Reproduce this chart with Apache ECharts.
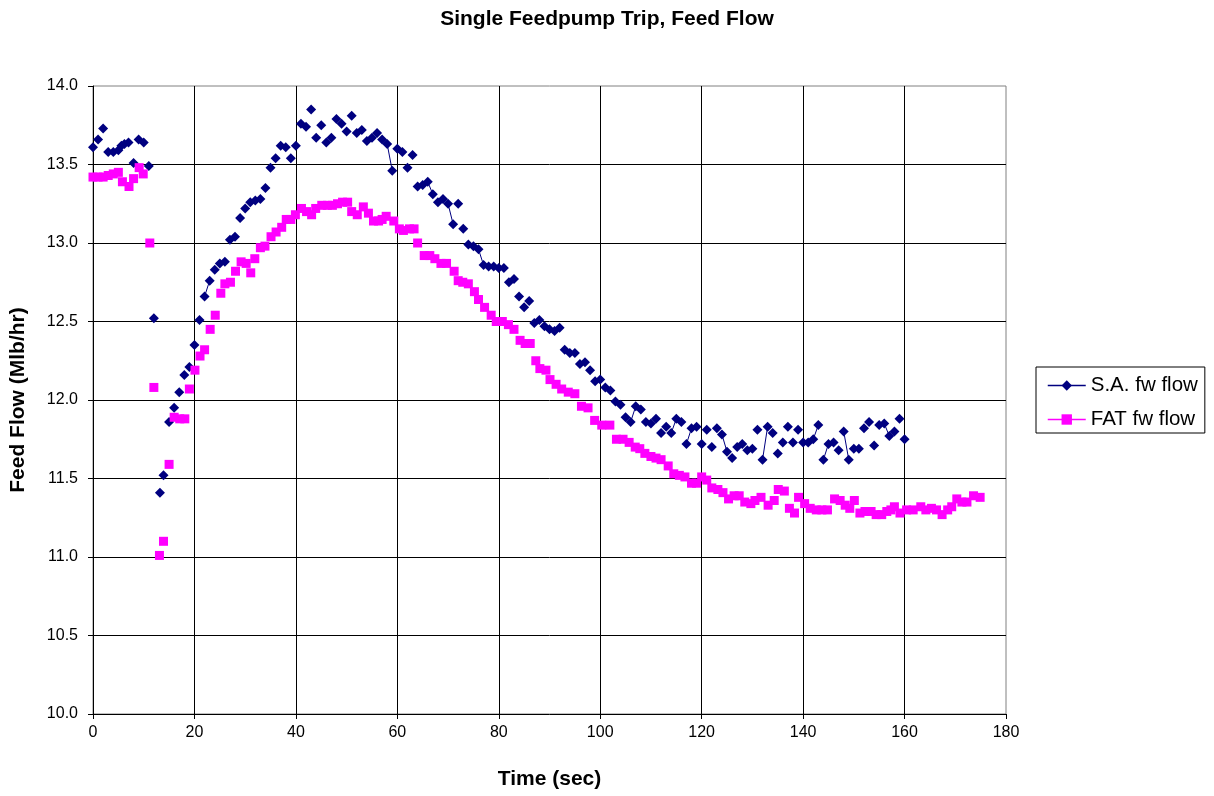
<!DOCTYPE html>
<html>
<head>
<meta charset="utf-8">
<title>Single Feedpump Trip, Feed Flow</title>
<script src="https://cdn.jsdelivr.net/npm/echarts@6/dist/echarts.min.js"></script>
<style>
    html, body { margin: 0; padding: 0; background: #fff; }
    #chart { width: 1214px; height: 796px; }
</style>
</head>
<body>
<div id="chart"></div>
<script>
// S.A. fw flow (sec, Mlb/hr)
var saTime = [0, 1, 2, 3, 4, 5, 5.6, 6.2, 7, 8, 9, 10, 11, 12, 13.2, 13.9, 15, 16, 17, 18,
    19, 20, 21, 22, 23, 24, 25, 26, 27, 28, 29, 30, 31, 32, 33, 34, 35, 36, 37, 38,
    39, 40, 41, 42, 43, 44, 45, 46, 47, 48, 49, 50, 51, 52, 53, 54, 55, 56, 57, 58,
    59, 60, 61, 62, 63, 64, 65, 66, 67, 68, 69, 70, 71, 72, 73, 74, 75, 76, 77, 78,
    79, 80, 81, 82, 83, 84, 85, 86, 87, 88, 89, 90, 91, 92, 93, 94, 95, 96, 97, 98,
    99, 100, 101, 102, 103, 104, 105, 106, 107, 108, 109, 110, 111, 112, 113, 114, 115, 116, 117, 118,
    119, 120, 121, 122, 123, 124, 125, 126, 127, 128, 129, 130, 131, 132, 133, 134, 135, 136, 137, 138,
    139, 140, 141, 142, 143, 144, 145, 146, 147, 148, 149, 150, 151, 152, 153, 154, 155, 156, 157, 158,
    159, 160];
var saFlow = [13.61, 13.66, 13.73, 13.58, 13.58, 13.59, 13.62, 13.63, 13.64, 13.51, 13.66, 13.64, 13.49, 12.52, 11.41, 11.52, 11.86, 11.95, 12.05, 12.16,
    12.21, 12.35, 12.51, 12.66, 12.76, 12.83, 12.87, 12.88, 13.02, 13.04, 13.16, 13.22, 13.26, 13.27, 13.28, 13.35, 13.48, 13.54, 13.62, 13.61,
    13.54, 13.62, 13.76, 13.74, 13.85, 13.67, 13.75, 13.64, 13.67, 13.79, 13.76, 13.71, 13.81, 13.70, 13.72, 13.65, 13.67, 13.70, 13.66, 13.63,
    13.46, 13.60, 13.58, 13.48, 13.56, 13.36, 13.37, 13.39, 13.31, 13.26, 13.28, 13.25, 13.12, 13.25, 13.09, 12.99, 12.98, 12.96, 12.86, 12.85,
    12.85, 12.84, 12.84, 12.75, 12.77, 12.66, 12.59, 12.63, 12.49, 12.51, 12.47, 12.45, 12.44, 12.46, 12.32, 12.30, 12.30, 12.23, 12.24, 12.19,
    12.12, 12.13, 12.08, 12.06, 11.99, 11.97, 11.89, 11.86, 11.96, 11.94, 11.86, 11.85, 11.88, 11.79, 11.83, 11.79, 11.88, 11.86, 11.72, 11.82,
    11.83, 11.72, 11.81, 11.70, 11.82, 11.78, 11.67, 11.63, 11.70, 11.72, 11.68, 11.69, 11.81, 11.62, 11.83, 11.79, 11.66, 11.73, 11.83, 11.73,
    11.81, 11.73, 11.73, 11.75, 11.84, 11.62, 11.72, 11.73, 11.68, 11.80, 11.62, 11.69, 11.69, 11.82, 11.86, 11.71, 11.84, 11.85, 11.77, 11.80,
    11.88, 11.75];
// times (sec) where the S.A. line visibly joins a point to the next one
var saJoinFrom = [22, 58, 66, 70, 76, 106, 114, 117, 124, 132, 141, 142, 144, 148, 156];

// FAT fw flow (sec, Mlb/hr)
var fatTime = [0, 1, 2, 3, 4, 5, 5.8, 7.1, 8, 9.1, 9.9, 11.2, 12, 13.1, 13.9, 15, 16, 17.1, 18.1, 19,
    20.1, 21.1, 22, 23.1, 24.1, 25.2, 26, 27.1, 28.1, 29.2, 30.2, 31.1, 31.9, 33, 33.9, 35.1, 36.1, 37.2, 38.1, 39,
    39.9, 41.1, 42.1, 43.1, 43.9, 45.1, 46.2, 47.2, 48.2, 49.2, 50.2, 51, 52.1, 53.3, 54.3, 55.3, 56.3, 57, 57.8, 59.3,
    60.4, 61.2, 62.4, 63.3, 64, 65.3, 66.4, 67.4, 68.6, 69.7, 71.2, 72, 72.9, 74, 75.2, 76, 77.2, 78.5, 79.5, 80.7,
    81.9, 83, 84.2, 85.2, 86.2, 87.3, 88.1, 89.3, 90.1, 91.3, 92.4, 93.7, 95, 96.3, 97.6, 98.9, 100.3, 101.9, 103.2, 104.5,
    105.7, 106.9, 107.8, 108.8, 110, 111, 112, 113.4, 114.5, 115.6, 116.7, 118, 119, 120, 121, 122, 123.2, 124.2, 125.3, 126.4,
    127.4, 128.5, 129.7, 130.5, 131.7, 133.1, 134.3, 135.1, 136.3, 137.3, 138.3, 139.1, 140.3, 141.4, 142.6, 143.7, 144.8, 146.2, 147.3, 148.3,
    149.2, 150.1, 151.2, 152.2, 153.4, 154.4, 155.5, 156.5, 157.3, 158, 159.1, 160.4, 161.7, 163.2, 164.2, 165.3, 166.3, 167.4, 168.5, 169.3,
    170.3, 171.3, 172.3, 173.6, 174.9];
var fatFlow = [13.42, 13.42, 13.42, 13.43, 13.44, 13.45, 13.39, 13.36, 13.41, 13.48, 13.44, 13.00, 12.08, 11.01, 11.10, 11.59, 11.89, 11.88, 11.88, 12.07,
    12.19, 12.28, 12.32, 12.45, 12.54, 12.68, 12.74, 12.75, 12.82, 12.88, 12.87, 12.81, 12.90, 12.97, 12.98, 13.04, 13.07, 13.10, 13.15, 13.15,
    13.18, 13.22, 13.20, 13.18, 13.22, 13.24, 13.24, 13.24, 13.25, 13.26, 13.26, 13.20, 13.18, 13.23, 13.19, 13.14, 13.14, 13.15, 13.17, 13.14,
    13.09, 13.08, 13.09, 13.09, 13.00, 12.92, 12.92, 12.90, 12.87, 12.87, 12.82, 12.76, 12.75, 12.74, 12.69, 12.64, 12.59, 12.54, 12.50, 12.50,
    12.48, 12.45, 12.38, 12.36, 12.36, 12.25, 12.20, 12.19, 12.13, 12.10, 12.07, 12.05, 12.04, 11.96, 11.95, 11.87, 11.84, 11.84, 11.75, 11.75,
    11.73, 11.70, 11.69, 11.66, 11.64, 11.63, 11.62, 11.58, 11.53, 11.52, 11.51, 11.47, 11.47, 11.51, 11.49, 11.44, 11.43, 11.41, 11.37, 11.39,
    11.39, 11.35, 11.34, 11.36, 11.38, 11.33, 11.36, 11.43, 11.42, 11.31, 11.28, 11.38, 11.34, 11.31, 11.30, 11.30, 11.30, 11.37, 11.36, 11.33,
    11.31, 11.36, 11.28, 11.29, 11.29, 11.27, 11.27, 11.29, 11.30, 11.32, 11.28, 11.30, 11.30, 11.32, 11.30, 11.31, 11.30, 11.27, 11.30, 11.32,
    11.37, 11.35, 11.35, 11.39, 11.38];

var seriesNames = ['S.A. fw flow', 'FAT fw flow'];
var seriesColors = ['#000080', '#ff00ff'];

// pairs with a gap after every point that is not joined to the next one
function buildSeries(xs, ys, joinFrom) {
    var out = [];
    for (var i = 0; i < xs.length; i++) {
        out.push([xs[i], ys[i]]);
        if (i < xs.length - 1 && joinFrom.indexOf(xs[i]) < 0) {
            out.push(['-', '-']);
        }
    }
    return out;
}

var chart = echarts.init(document.getElementById('chart'), null, { renderer: 'canvas' });

var fontFamily = 'Arial, "Liberation Sans", sans-serif';

var option = {
    backgroundColor: '#ffffff',
    animation: false,
    textStyle: { fontFamily: fontFamily, color: '#000' },
    title: {
        text: 'Single Feedpump Trip, Feed Flow',
        left: 'center',
        top: 4,
        textStyle: { fontSize: 21, fontWeight: 'bold', color: '#000', fontFamily: fontFamily }
    },
    legend: {
        orient: 'vertical',
        left: 1036,
        top: 367,
        padding: [8, 7, 3, 11],
        itemGap: 13,
        itemWidth: 38,
        itemHeight: 13,
        borderColor: '#000',
        borderWidth: 1,
        textStyle: { fontSize: 20.5, color: '#000', fontFamily: fontFamily },
        data: [
            { name: seriesNames[0], lineStyle: { opacity: 1, width: 1.5, color: seriesColors[0] } },
            { name: seriesNames[1], lineStyle: { opacity: 1, width: 1.5, color: seriesColors[1] } }
        ]
    },
    grid: {
        left: 93,
        top: 86,
        right: 208,
        bottom: 82,
        show: true,
        borderColor: '#808080',
        borderWidth: 1
    },
    xAxis: {
        type: 'value',
        min: 0,
        max: 180,
        interval: 20,
        name: 'Time (sec)',
        nameLocation: 'middle',
        nameGap: 55,
        nameTextStyle: { fontSize: 21, fontWeight: 'bold', color: '#000', fontFamily: fontFamily },
        axisLine: { show: true, lineStyle: { color: '#000', width: 1 } },
        axisTick: { show: true, length: 5, lineStyle: { color: '#000' } },
        axisLabel: { fontSize: 16, color: '#000', margin: 11 },
        splitLine: { show: true, showMinLine: false, showMaxLine: false, lineStyle: { color: '#000', width: 1 } }
    },
    yAxis: {
        type: 'value',
        min: 10,
        max: 14,
        interval: 0.5,
        name: 'Feed Flow (Mlb/hr)',
        nameLocation: 'middle',
        nameGap: 64,
        nameRotate: 90,
        nameTextStyle: { fontSize: 21, fontWeight: 'bold', color: '#000', fontFamily: fontFamily },
        axisLine: { show: true, lineStyle: { color: '#000', width: 1 } },
        axisTick: { show: true, length: 5, lineStyle: { color: '#000' } },
        axisLabel: {
            fontSize: 16,
            color: '#000',
            margin: 15,
            formatter: function (v) { return v.toFixed(1); }
        },
        splitLine: { show: true, showMinLine: false, showMaxLine: false, lineStyle: { color: '#000', width: 1 } }
    },
    series: [
        {
            name: seriesNames[0],
            type: 'line',
            data: buildSeries(saTime, saFlow, saJoinFrom),
            connectNulls: false,
            symbol: 'diamond',
            symbolSize: 10,
            showAllSymbol: true,
            itemStyle: { color: seriesColors[0] },
            lineStyle: { color: seriesColors[0], width: 1 }
        },
        {
            name: seriesNames[1],
            type: 'line',
            data: buildSeries(fatTime, fatFlow, []),
            connectNulls: false,
            symbol: 'rect',
            symbolSize: 9,
            showAllSymbol: true,
            itemStyle: { color: seriesColors[1] },
            lineStyle: { color: seriesColors[1], width: 1 }
        }
    ]
};

chart.setOption(option);
</script>
</body>
</html>
